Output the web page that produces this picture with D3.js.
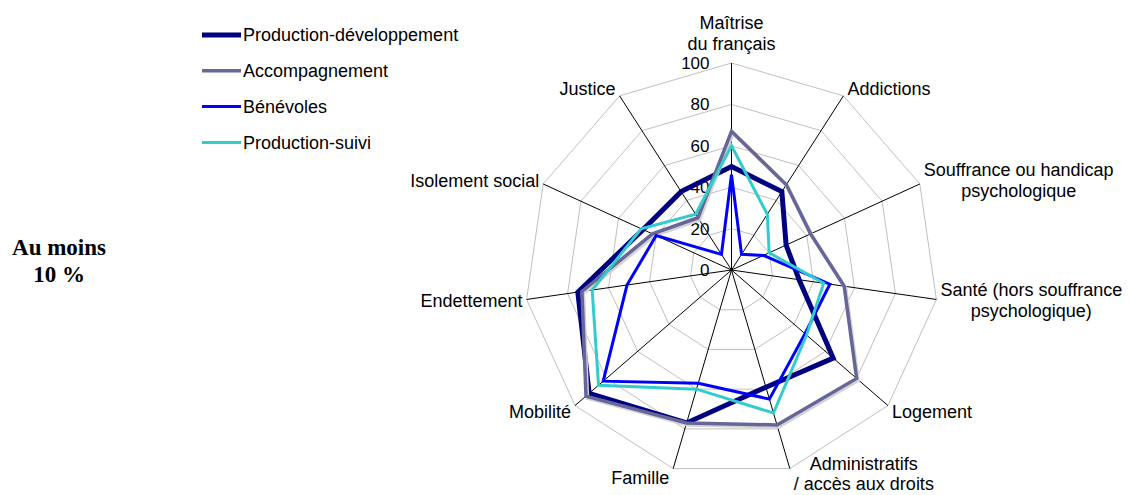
<!DOCTYPE html>
<html>
<head>
<meta charset="utf-8">
<script src="https://cdn.jsdelivr.net/npm/d3@7"></script>
<style>
    body { margin: 0; background: #fff; }
    svg { display: block; }
    text { font-family: "Liberation Sans", Arial, sans-serif; fill: #000; }
</style>
</head>
<body>
<div id="chart"></div>
<script>
// Data

const categories = [
    "Maîtrise\ndu français",
    "Addictions",
    "Souffrance ou handicap\npsychologique",
    "Santé (hors souffrance\npsychologique)",
    "Logement",
    "Administratifs\n/ accès aux droits",
    "Famille",
    "Mobilité",
    "Endettement",
    "Isolement social",
    "Justice"
];

const seriesNames = ["Production-développement", "Accompagnement", "Bénévoles", "Production-suivi"];

const productionDeveloppement = [50, 45, 29, 33, 65, 59, 77, 91, 75, 47, 45];
const accompagnement = [67, 49, 42, 55, 80, 78, 77, 93, 73, 42, 30];
const benevoles = [46, 9, 17, 48, 47, 65, 57, 82, 51, 40, 9];
const productionSuivi = [60, 32, 20, 45, 48, 72, 60, 85, 68, 48, 32];

const ticks = [0, 20, 40, 60, 80, 100];

const sideNote = ["Au moins", "10 %"];

class RadarChart {
    constructor(_series, _config = {}) {
        this.config = {
            parentElement: _config.parentElement,
            containerWidth: _config.containerWidth || 1133,
            containerHeight: _config.containerHeight || 495,
            cx: 731.5,
            cy: 270,
            radius: 207,
            lineHeight: 21
        }
        this.series = _series;
        this.initVis();
    }

    initVis() {
        let vis = this;
        let { parentElement, containerWidth, containerHeight, cx, cy, radius } = vis.config;

        vis.svg = d3.select(parentElement)
            .append("svg")
            .attr("width", containerWidth)
            .attr("height", containerHeight);

        vis.r = d3.scaleLinear().domain([0, 100]).range([0, radius]);
        vis.angle = d3.scalePoint()
            .domain(d3.range(categories.length))
            .range([0, 2 * Math.PI * (categories.length - 1) / categories.length]);

        vis.pt = (i, v) => {
            let a = vis.angle(i);
            return [cx + vis.r(v) * Math.sin(a), cy - vis.r(v) * Math.cos(a)];
        };

        vis.chart = vis.svg.append("g");
        vis.renderVis();
    }

    renderVis() {
        let vis = this;
        let { cx, cy, lineHeight } = vis.config;
        let idx = d3.range(categories.length);

        // Grid rings
        vis.chart.selectAll("path.ring")
            .data(ticks.filter(t => t > 0))
            .join("path")
            .attr("class", "ring")
            .attr("d", t => d3.line()(idx.map(i => vis.pt(i, t))) + "Z")
            .attr("fill", "none")
            .attr("stroke", "#c0c0c0")
            .attr("stroke-width", 1);

        // Spokes
        vis.chart.selectAll("line.spoke")
            .data(idx)
            .join("line")
            .attr("class", "spoke")
            .attr("x1", cx).attr("y1", cy)
            .attr("x2", i => vis.pt(i, 100)[0])
            .attr("y2", i => vis.pt(i, 100)[1])
            .attr("stroke", "#000")
            .attr("stroke-width", 1);

        // Tick labels
        vis.chart.selectAll("text.tick")
            .data(ticks)
            .join("text")
            .attr("class", "tick")
            .attr("x", cx - 22)
            .attr("y", t => cy - vis.r(t))
            .attr("dy", "0.35em")
            .attr("text-anchor", "end")
            .style("font-size", "17px")
            .text(t => t);

        // Series (with a soft shadow under Accompagnement)
        let line = d3.line().curve(d3.curveLinearClosed);
        vis.series.forEach(s => {
            if (s.shadow) {
                vis.chart.append("path")
                    .attr("d", line(s.values.map((v, i) => vis.pt(i, v))))
                    .attr("transform", "translate(1.5,2)")
                    .attr("fill", "none")
                    .attr("stroke", "#d4d4d4")
                    .attr("stroke-width", s.width);
            }
            vis.chart.append("path")
                .attr("d", line(s.values.map((v, i) => vis.pt(i, v))))
                .attr("fill", "none")
                .attr("stroke", s.color)
                .attr("stroke-width", s.width)
                .attr("stroke-linejoin", "miter");
        });

        // Category labels
        categories.forEach((c, i) => {
            let a = vis.angle(i);
            let [tx, ty] = vis.pt(i, 100);
            let lines = c.split("\n");
            let sin = Math.sin(a), cos = Math.cos(a);
            let centerY = Math.abs(sin) < 0.1
                ? ty - 30
                : ty - cos * (lines.length > 1 && cos < 0 ? 5.5 : 9);
            let lh = cos < -0.5 ? lineHeight - 1.5 : lineHeight;

            let label = vis.chart.append("text")
                .attr("text-anchor", "middle")
                .style("font-size", "18px");
            let spans = lines.map((l, k) => label.append("tspan")
                .attr("y", centerY + (k - (lines.length - 1) / 2) * lh)
                .attr("dy", "0.35em")
                .text(l));
            let w = d3.max(spans, sp => sp.node().getComputedTextLength());
            let mid = sin > 0.1 ? tx + 4 + w / 2 : sin < -0.1 ? tx - 4 - w / 2 : tx;
            spans.forEach(sp => sp.attr("x", mid));
        });

        // Legend
        let legend = vis.svg.append("g");
        vis.series.forEach((s, i) => {
            let y = 35 + i * 35.8;
            legend.append("line")
                .attr("x1", 202).attr("x2", 241)
                .attr("y1", y).attr("y2", y)
                .attr("stroke", s.color)
                .attr("stroke-width", s.width);
            legend.append("text")
                .attr("x", 243)
                .attr("y", y)
                .attr("dy", "0.35em")
                .style("font-size", "18px")
                .text(s.name);
        });

        // Side note
        vis.svg.append("text")
            .attr("text-anchor", "middle")
            .style("font-family", "'Liberation Serif', 'Times New Roman', serif")
            .style("font-weight", "bold")
            .style("font-size", "23px")
            .selectAll("tspan")
            .data(sideNote)
            .join("tspan")
            .attr("x", 59)
            .attr("y", (d, k) => 255 + k * 27)
            .text(d => d);
    }
}

const series = [
    { name: seriesNames[0], values: productionDeveloppement, color: "#000080", width: 5 },
    { name: seriesNames[1], values: accompagnement, color: "#666699", width: 3.5, shadow: true },
    { name: seriesNames[2], values: benevoles, color: "#0000ff", width: 3 },
    { name: seriesNames[3], values: productionSuivi, color: "#33cccc", width: 3 }
];

new RadarChart(series, { parentElement: "#chart" });
</script>
</body>
</html>
